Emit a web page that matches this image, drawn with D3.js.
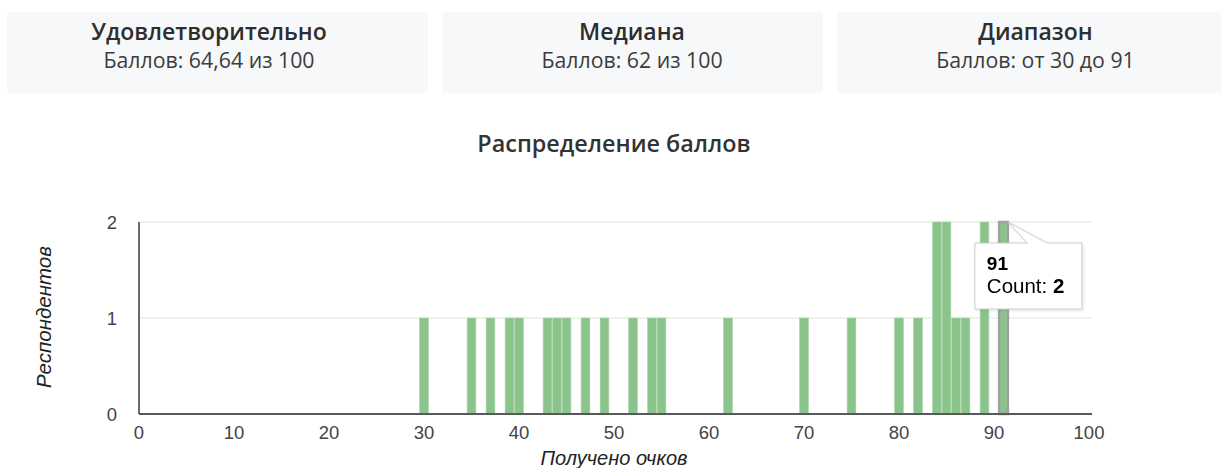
<!DOCTYPE html>
<html>
<head>
<meta charset="utf-8">
<script src="https://cdn.jsdelivr.net/npm/d3@7"></script>
<style>
  body { margin: 0; background: #fff; }
  svg { display: block; }
</style>
</head>
<body>
<div id="chart"></div>
<script>
// Summary cards
const cardTitles = ["Удовлетворительно", "Медиана", "Диапазон"];
const cardTexts = ["Баллов: 64,64 из 100", "Баллов: 62 из 100", "Баллов: от 30 до 91"];

// Histogram data: score -> number of respondents
const scores = [30, 35, 37, 39, 40, 43, 44, 45, 47, 49, 52, 54, 55, 62, 70, 75, 80, 82, 84, 85, 86, 87, 89, 91];
const counts = [1, 1, 1, 1, 1, 1, 1, 1, 1, 1, 1, 1, 1, 1, 1, 1, 1, 1, 2, 2, 1, 1, 2, 2];

const xTicks = [0, 10, 20, 30, 40, 50, 60, 70, 80, 90, 100];
const yTicks = [0, 1, 2];

const hovered = 91;

let W = 1221, H = 468;
let barColor = "#8bc48b";

let svg = d3.select("#chart").append("svg").attr("width", W).attr("height", H);

let defs = svg.append("defs");
let shadow = defs.append("filter").attr("id", "shadow")
  .attr("x", "-20%").attr("y", "-20%").attr("width", "140%").attr("height", "140%");
shadow.append("feDropShadow").attr("dx", 1).attr("dy", 1).attr("stdDeviation", 1.5)
  .attr("flood-color", "#000").attr("flood-opacity", 0.12);

// Cards
let cards = [
  { x0: 7, x1: 428, cx: 209 },
  { x0: 442, x1: 823, cx: 632 },
  { x0: 837, x1: 1240, cx: 1035.5 }
];
let cardFont = "'Open Sans', sans-serif";
let cardG = svg.append("g").selectAll("g").data(cards).join("g");
cardG.append("rect")
  .attr("x", d => d.x0).attr("y", 12)
  .attr("width", d => d.x1 - d.x0).attr("height", 81)
  .attr("rx", 4).attr("fill", "#f7f8fa");
cardG.append("text")
  .attr("x", d => d.cx).attr("y", 40)
  .attr("text-anchor", "middle")
  .style("font-family", cardFont).style("font-weight", 600)
  .style("font-size", "23px").attr("fill", "#2e2e2e")
  .text((d, i) => cardTitles[i]);
cardG.append("text")
  .attr("x", d => d.cx).attr("y", 68)
  .attr("text-anchor", "middle")
  .style("font-family", cardFont)
  .style("font-size", "21.3px").attr("fill", "#3c3c3c")
  .text((d, i) => cardTexts[i]);

// Chart title
svg.append("text")
  .attr("x", 614).attr("y", 152)
  .attr("text-anchor", "middle")
  .style("font-family", cardFont).style("font-weight", 600)
  .style("font-size", "23.4px").attr("fill", "#333")
  .text("Распределение баллов");

// Scales
let x = d3.scaleLinear().domain([0, 100]).range([139, 1089]);
let y = d3.scaleLinear().domain([0, 2]).range([414, 222]);
let bw = (x(1) - x(0)) * 0.92;

let font = "'Liberation Sans', Arial, sans-serif";

// Gridlines
svg.append("g").selectAll("line")
  .data(yTicks.filter(t => t > 0)).join("line")
  .attr("x1", x(0)).attr("x2", x(100) + 3)
  .attr("y1", d => y(d)).attr("y2", d => y(d))
  .attr("stroke", "#ececec").attr("stroke-width", 1.3);

// Bars
let data = scores.map((s, i) => ({ score: s, count: counts[i] }));
svg.append("g").selectAll("rect")
  .data(data).join("rect")
  .attr("x", d => x(d.score) - bw / 2)
  .attr("y", d => y(d.count))
  .attr("width", bw)
  .attr("height", d => y(0) - y(d.count))
  .attr("fill", barColor)
  .attr("stroke", d => d.score === hovered ? "#a0a0a0" : "#a9d3a9")
  .attr("stroke-width", d => d.score === hovered ? 2.5 : 0.6);

// Axes lines
svg.append("line")
  .attr("x1", x(0)).attr("x2", x(100) + 3)
  .attr("y1", y(0)).attr("y2", y(0))
  .attr("stroke", "#595959").attr("stroke-width", 1.8);
svg.append("line")
  .attr("x1", x(0)).attr("x2", x(0))
  .attr("y1", y(2)).attr("y2", y(0))
  .attr("stroke", "#595959").attr("stroke-width", 1.8);

// Tick labels
svg.append("g").selectAll("text")
  .data(xTicks).join("text")
  .attr("x", d => x(d)).attr("y", y(0) + 25)
  .attr("text-anchor", "middle")
  .style("font-family", font).style("font-size", "18.5px").attr("fill", "#444")
  .text(d => d);
svg.append("g").selectAll("text")
  .data(yTicks).join("text")
  .attr("x", 117).attr("y", d => y(d)).attr("dy", "0.36em")
  .attr("text-anchor", "end")
  .style("font-family", font).style("font-size", "18.5px").attr("fill", "#444")
  .text(d => d);

// Axis titles
svg.append("text")
  .attr("x", 614).attr("y", 465)
  .attr("text-anchor", "middle")
  .style("font-family", font).style("font-size", "20px").style("font-style", "italic")
  .attr("fill", "#222")
  .text("Получено очков");
svg.append("text")
  .attr("transform", "translate(51,317) rotate(-90)")
  .attr("text-anchor", "middle")
  .style("font-family", font).style("font-size", "20.5px").style("font-style", "italic")
  .attr("fill", "#222")
  .text("Респондентов");

// Tooltip for hovered bar
let hd = data.find(d => d.score === hovered);
let tx = x(hd.score) + bw / 2, ty = y(hd.count);
let tip = svg.append("g").attr("filter", "url(#shadow)");
let bx = tx - 33, by = ty + 21, bwid = 107, bh = 66;
tip.append("rect")
  .attr("x", bx).attr("y", by).attr("width", bwid).attr("height", bh)
  .attr("fill", "#fff").attr("stroke", "#cccccc").attr("stroke-width", 1);
tip.append("path")
  .attr("d", `M${tx + 20},${by + 0.5} L${tx},${ty} L${tx + 40},${by + 0.5}`)
  .attr("fill", "#fff").attr("stroke", "#cccccc").attr("stroke-width", 1);
tip.append("line")
  .attr("x1", tx + 20.5).attr("x2", tx + 39.5).attr("y1", by + 0.5).attr("y2", by + 0.5)
  .attr("stroke", "#fff").attr("stroke-width", 1.2);
tip.append("text")
  .attr("x", bx + 12).attr("y", by + 27)
  .style("font-family", font).style("font-size", "19px").style("font-weight", "bold")
  .attr("fill", "#000")
  .text(hd.score);
let t2 = tip.append("text")
  .attr("x", bx + 12).attr("y", by + 50)
  .style("font-family", font).style("font-size", "20.5px").attr("fill", "#000");
t2.append("tspan").text("Count: ");
t2.append("tspan").style("font-weight", "bold").text(hd.count);
</script>
</body>
</html>
